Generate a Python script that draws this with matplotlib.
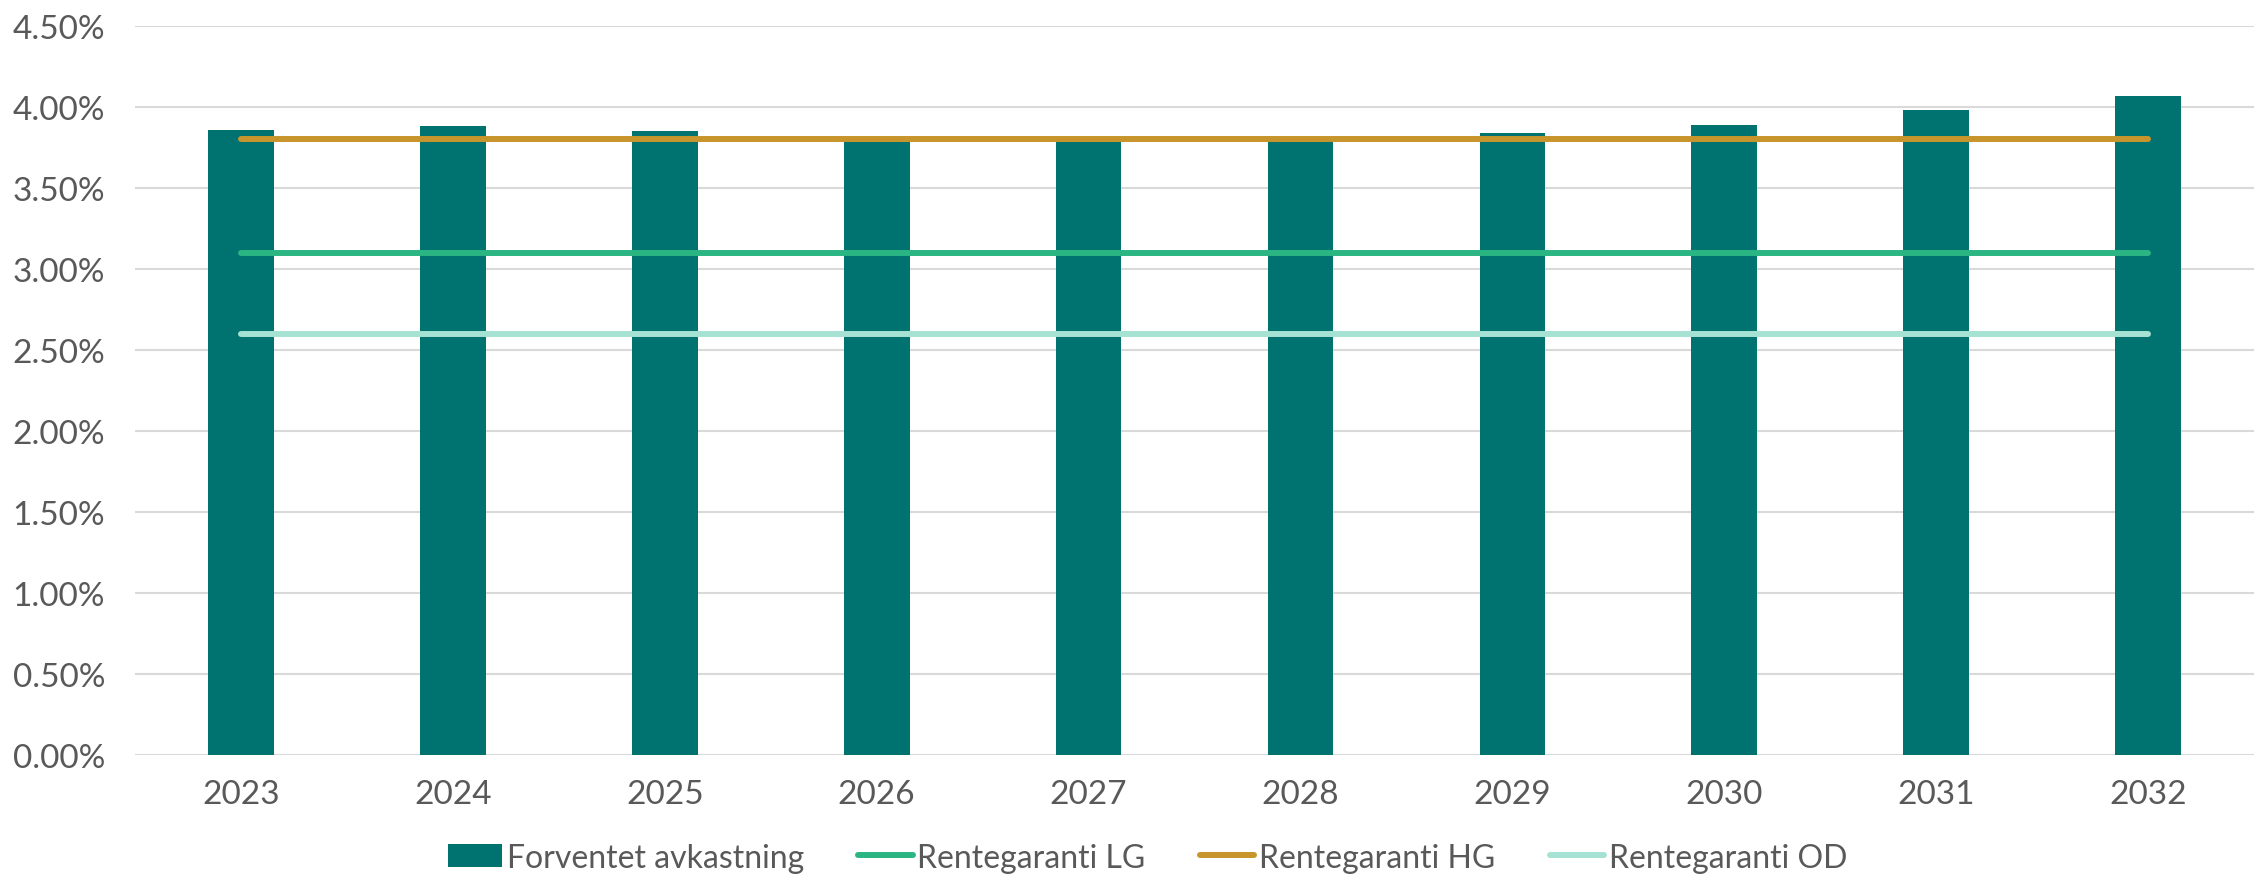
import numpy as np
import matplotlib.pyplot as plt
from matplotlib.patches import Patch
from matplotlib.lines import Line2D

years = ["2023", "2024", "2025", "2026", "2027", "2028", "2029", "2030", "2031", "2032"]
forventet = [3.86, 3.88, 3.85, 3.80, 3.79, 3.80, 3.84, 3.89, 3.98, 4.07]
garanti_lg = [3.10] * 10
garanti_hg = [3.80] * 10
garanti_od = [2.60] * 10

c_bar = "#007270"
c_lg = "#2bb583"
c_hg = "#c8952c"
c_od = "#a6e2d3"
c_text = "#595959"

plt.rcParams["font.family"] = ["Lato", "DejaVu Sans"]

fig = plt.figure(figsize=(22.54, 8.78), dpi=100)
ax = fig.add_axes([0.0599, 0.139, 0.9401, 0.8302])

x = np.arange(len(years))
ax.bar(x, forventet, width=0.31, color=c_bar, zorder=2)
ax.plot(x, garanti_lg, color=c_lg, lw=4.3, solid_capstyle="round", zorder=3)
ax.plot(x, garanti_hg, color=c_hg, lw=4.3, solid_capstyle="round", zorder=3)
ax.plot(x, garanti_od, color=c_od, lw=4.3, solid_capstyle="round", zorder=3)

ax.set_xlim(-0.5, len(years) - 0.5)
ax.set_ylim(0, 4.5)
ax.set_yticks(np.arange(0, 4.51, 0.5))
ax.set_yticklabels([f"{v:.2f}%" for v in np.arange(0, 4.51, 0.5)])
ax.set_xticks(x)
ax.set_xticklabels(years)
ax.yaxis.grid(True, color="#d9d9d9", lw=1.5, zorder=0)
ax.set_axisbelow(True)
for s in ax.spines.values():
    s.set_visible(False)
ax.tick_params(axis="both", length=0, labelsize=24, colors=c_text)
ax.tick_params(axis="y", pad=21.5)
ax.tick_params(axis="x", pad=17)

handles = [
    Patch(facecolor=c_bar),
    Line2D([0], [0], color=c_lg, lw=4.3, solid_capstyle="round"),
    Line2D([0], [0], color=c_hg, lw=4.3, solid_capstyle="round"),
    Line2D([0], [0], color=c_od, lw=4.3, solid_capstyle="round"),
]
labels = ["Forventet avkastning", "Rentegaranti LG", "Rentegaranti HG", "Rentegaranti OD"]
fig.legend(handles, labels, loc="center", bbox_to_anchor=(0.509, 0.022), ncol=4,
           frameon=False, fontsize=23, labelcolor=c_text, handlelength=1.7,
           handleheight=0.75, handletextpad=0.15, columnspacing=1.7)

fig.savefig("out.png", dpi=100)
